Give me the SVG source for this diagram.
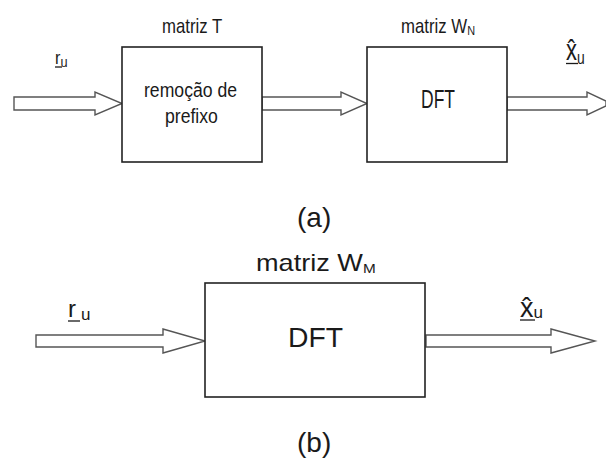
<svg xmlns="http://www.w3.org/2000/svg" width="606" height="460" viewBox="0 0 606 460">
<style>
.box{fill:#fff;stroke:#222;stroke-width:1.6}
.arr{fill:#fff;stroke:#555;stroke-width:1.4;stroke-linejoin:miter}
text{font-family:"Liberation Sans",Arial,sans-serif;fill:#1a1a1a}
.ul{stroke:#1a1a1a;stroke-width:1.3}
</style>
<rect width="606" height="460" fill="#fff"/>
<g id="connectors">
<polygon class="arr" points="14,97 95,97 95,92 122,103.5 95,115 95,110 14,110"/>
<polygon class="arr" points="262,97 341,97 341,92 367,103.5 341,115 341,110 262,110"/>
<polygon class="arr" points="507,97 587,97 587,92 606,101 606,106 587,115 587,110 507,110"/>
<polygon class="arr" points="36,335 163,335 163,329 205,341 163,353 163,347 36,347"/>
<polygon class="arr" points="426,335 551,335 551,329 595,341 551,353 551,347 426,347"/>
</g>
<g id="node-T">
<rect class="box" x="122" y="47" width="140" height="115"/>
<text transform="translate(162,33) scale(0.84,1)" font-size="20">matriz T</text>
<text transform="translate(144,97) scale(0.84,1)" font-size="21">remoção de</text>
<text transform="translate(165,123) scale(0.84,1)" font-size="21">prefixo</text>
</g>
<g id="node-WN">
<rect class="box" x="367" y="47" width="140" height="115"/>
<text transform="translate(401,33) scale(0.84,1)" font-size="20">matriz W<tspan dy="2" font-size="13">N</tspan></text>
<text transform="translate(421,108) scale(0.7,1)" font-size="25">DFT</text>
</g>
<g id="label-ru-a">
<text transform="translate(55,64) scale(0.85,1)" font-size="19">r<tspan dy="3" font-size="15">u</tspan></text>
<line class="ul" x1="55" y1="67" x2="62" y2="67"/>
</g>
<g id="label-xu-a">
<text transform="translate(566,60) scale(0.73,1)" font-size="30">x̂<tspan dy="4" font-size="19">u</tspan></text>
<line class="ul" x1="566" y1="63.5" x2="578" y2="63.5"/>
</g>
<text x="297" y="227" font-size="28">(a)</text>
<g id="node-WM">
<rect class="box" x="205" y="283" width="220" height="114"/>
<text transform="translate(256,271) scale(1.18,1)" font-size="23">matriz W<tspan dy="2" font-size="13">M</tspan></text>
<text x="288" y="347" font-size="28" textLength="55" lengthAdjust="spacingAndGlyphs">DFT</text>
</g>
<g id="label-ru-b">
<text x="68" y="317" font-size="24">r<tspan x="81" dy="3" font-size="17">u</tspan></text>
<line class="ul" x1="68" y1="321" x2="80" y2="321"/>
</g>
<g id="label-xu-b">
<text x="520" y="317" font-size="27">x̂<tspan dy="1" font-size="17">u</tspan></text>
<line class="ul" x1="520" y1="320" x2="535" y2="320"/>
</g>
<text x="297" y="452" font-size="28">(b)</text>
</svg>
